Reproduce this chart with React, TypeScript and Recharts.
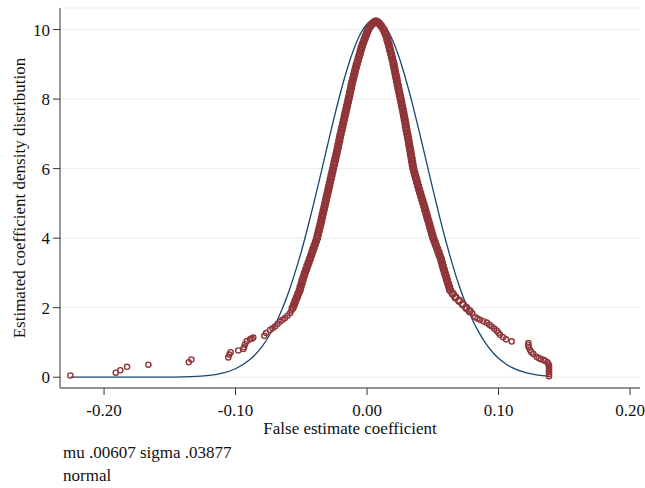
import { ComposedChart, Scatter, Line, XAxis, YAxis, CartesianGrid } from "recharts";

const serif = '"Liberation Serif", "Times New Roman", serif';
const maroon = "#8f3539";
const navy = "#1a476f";

const xTicks = [-0.2, -0.1, 0, 0.1, 0.2];
const yTicks = [0, 2, 4, 6, 8, 10];

// kernel density of the false estimates: [x, density]
const leftTail: [number, number][] = [
  [-0.2256, 0.05], [-0.1911, 0.13], [-0.1876, 0.2], [-0.1825, 0.3], [-0.1663, 0.36],
  [-0.1356, 0.43], [-0.1336, 0.51], [-0.1055, 0.57], [-0.1047, 0.65], [-0.1037, 0.72],
  [-0.0979, 0.77], [-0.0941, 0.81], [-0.0935, 0.86], [-0.0928, 0.95], [-0.0915, 1.03],
  [-0.089, 1.09], [-0.0878, 1.11], [-0.0865, 1.14], [-0.0781, 1.19], [-0.0768, 1.27],
  [-0.0738, 1.36], [-0.0719, 1.41], [-0.07, 1.46], [-0.0681, 1.53], [-0.0662, 1.6],
  [-0.0643, 1.65], [-0.0624, 1.7], [-0.0605, 1.77], [-0.0586, 1.84], [-0.0575, 1.92],
];

const leftFlank: [number, number][] = [
  [-0.0565, 2.0], [-0.0554, 2.1], [-0.0544, 2.2], [-0.0533, 2.3], [-0.0523, 2.4],
  [-0.0512, 2.5], [-0.0505, 2.6], [-0.0497, 2.7], [-0.049, 2.8], [-0.0481, 2.9],
  [-0.0473, 3.0], [-0.0463, 3.1], [-0.0454, 3.2], [-0.0444, 3.3], [-0.0435, 3.4],
  [-0.0425, 3.5], [-0.0416, 3.6], [-0.0407, 3.7], [-0.0398, 3.8], [-0.0389, 3.9],
  [-0.038, 4.0], [-0.0374, 4.1], [-0.0367, 4.2], [-0.0361, 4.3], [-0.0354, 4.4],
  [-0.0348, 4.5], [-0.0342, 4.6], [-0.0336, 4.7], [-0.033, 4.8], [-0.0324, 4.9],
  [-0.0318, 5.0], [-0.0312, 5.1], [-0.0306, 5.2], [-0.03, 5.3], [-0.0294, 5.4],
  [-0.0288, 5.5], [-0.0282, 5.6], [-0.0276, 5.7], [-0.027, 5.8], [-0.0264, 5.9],
  [-0.0258, 6.0], [-0.0252, 6.1], [-0.0246, 6.2], [-0.024, 6.3], [-0.0234, 6.4],
  [-0.0228, 6.5], [-0.0222, 6.6], [-0.0217, 6.7], [-0.0211, 6.8], [-0.0206, 6.9],
  [-0.02, 7.0], [-0.0194, 7.1], [-0.0188, 7.2], [-0.0182, 7.3], [-0.0176, 7.4],
  [-0.017, 7.5], [-0.0164, 7.6], [-0.0158, 7.7], [-0.0152, 7.8], [-0.0146, 7.9],
  [-0.014, 8.0], [-0.0134, 8.1], [-0.0129, 8.2], [-0.0123, 8.3], [-0.0118, 8.4],
  [-0.0112, 8.5], [-0.0105, 8.6], [-0.0098, 8.7], [-0.0092, 8.8], [-0.0085, 8.9],
  [-0.0078, 9.0], [-0.007, 9.1], [-0.0063, 9.2], [-0.0055, 9.3], [-0.0048, 9.4],
  [-0.004, 9.5], [-0.0031, 9.6], [-0.0021, 9.7], [-0.0012, 9.8], [-0.0001, 9.9],
  [0.001, 10.0], [0.0026, 10.1], [0.0042, 10.17], [0.0055, 10.21], [0.0068, 10.23],
];

const rightFlank: [number, number][] = [
  [0.0081, 10.21], [0.0094, 10.17], [0.0108, 10.1], [0.0125, 10.0], [0.0137, 9.9],
  [0.0148, 9.8], [0.0155, 9.7], [0.0163, 9.6], [0.017, 9.5], [0.0176, 9.4],
  [0.0183, 9.3], [0.0189, 9.2], [0.0196, 9.1], [0.0202, 9.0], [0.0207, 8.9],
  [0.0212, 8.8], [0.0218, 8.7], [0.0223, 8.6], [0.0228, 8.5], [0.0234, 8.4],
  [0.0239, 8.3], [0.0245, 8.2], [0.025, 8.1], [0.0256, 8.0], [0.0261, 7.9],
  [0.0266, 7.8], [0.0272, 7.7], [0.0277, 7.6], [0.0282, 7.5], [0.0287, 7.4],
  [0.0292, 7.3], [0.0296, 7.2], [0.0301, 7.1], [0.0306, 7.0], [0.0311, 6.9],
  [0.0316, 6.8], [0.032, 6.7], [0.0325, 6.6], [0.033, 6.5], [0.0334, 6.4],
  [0.0339, 6.3], [0.0343, 6.2], [0.0348, 6.1], [0.0352, 6.0], [0.0359, 5.9],
  [0.0366, 5.8], [0.0374, 5.7], [0.0381, 5.6], [0.0388, 5.5], [0.0396, 5.4],
  [0.0404, 5.3], [0.0412, 5.2], [0.042, 5.1], [0.0428, 5.0], [0.0436, 4.9],
  [0.0443, 4.8], [0.0451, 4.7], [0.0458, 4.6], [0.0466, 4.5], [0.0474, 4.4],
  [0.0481, 4.3], [0.0489, 4.2], [0.0496, 4.1], [0.0504, 4.0], [0.0514, 3.9],
  [0.0523, 3.8], [0.0533, 3.7], [0.0543, 3.6], [0.0552, 3.5], [0.0562, 3.4],
  [0.0569, 3.3], [0.0576, 3.2], [0.0584, 3.1], [0.0592, 3.0], [0.06, 2.9],
  [0.0608, 2.8], [0.0616, 2.7], [0.0624, 2.6], [0.0632, 2.5], [0.0652, 2.4],
  [0.0672, 2.3], [0.07, 2.2], [0.0728, 2.1], [0.0754, 2.0], [0.078, 1.9],
];

const rightTail: [number, number][] = [
  [0.08, 1.84], [0.0821, 1.73], [0.084, 1.69], [0.0859, 1.65], [0.0885, 1.61],
  [0.091, 1.57], [0.093, 1.51], [0.0948, 1.46], [0.0967, 1.4], [0.0986, 1.34],
  [0.1, 1.28], [0.1011, 1.22], [0.1035, 1.15], [0.1057, 1.09], [0.11, 1.03],
  [0.1227, 0.98], [0.1227, 0.92], [0.123, 0.86], [0.124, 0.78], [0.125, 0.72],
  [0.1265, 0.67], [0.129, 0.59], [0.1305, 0.55], [0.1321, 0.52], [0.134, 0.5],
  [0.1354, 0.47], [0.1372, 0.43], [0.1379, 0.38], [0.1384, 0.33], [0.1384, 0.27],
  [0.1384, 0.21], [0.1384, 0.15], [0.1384, 0.09], [0.1384, 0.03],
];

// normal overlay (mu .00607, sigma .03877)
const normalX = [
  -0.2256, -0.2, -0.18, -0.16, -0.15, -0.14, -0.13, -0.12, -0.11, -0.1, -0.09, -0.08,
  -0.075, -0.07, -0.065, -0.06, -0.055, -0.05, -0.045, -0.04, -0.035, -0.03, -0.025,
  -0.02, -0.015, -0.01, -0.005, 0, 0.005, 0.01, 0.015, 0.02, 0.025, 0.03, 0.035, 0.04,
  0.045, 0.05, 0.055, 0.06, 0.065, 0.07, 0.075, 0.08, 0.085, 0.09, 0.095, 0.1, 0.105,
  0.11, 0.12, 0.13, 0.1384,
];
const normalY = [
  0, 0, 0.0001, 0.001, 0.003, 0.0085, 0.022, 0.052, 0.116, 0.244, 0.478, 0.876,
  1.157, 1.5, 1.918, 2.41, 2.98, 3.61, 4.32, 5.08, 5.87, 6.68, 7.47,
  8.21, 8.88, 9.44, 9.88, 10.16, 10.29, 10.24, 10.02, 9.65, 9.13, 8.5, 7.79, 7.02,
  6.22, 5.42, 4.64, 3.91, 3.24, 2.64, 2.12, 1.67, 1.296, 0.988, 0.741, 0.546, 0.397,
  0.283, 0.137, 0.062, 0.03,
];

const toPts = (a: [number, number][]) => a.map(([x, y]) => ({ x, y }));
const normal = normalX.map((x, i) => ({ x, y: normalY[i] }));

const ring = (r: number, sw: number) => (p: any) =>
  <circle cx={p.cx} cy={p.cy} r={r} fill="none" stroke={maroon} strokeWidth={sw} />;

const tickStyle = { fill: "#111", fontSize: 17, fontFamily: serif };

export default function App() {
  return (
    <div style={{ position: "relative", width: 645, height: 488, fontFamily: serif }}>
      <style>{"body{margin:0}"}</style>
      <ComposedChart width={645} height={488} margin={{ top: 8, right: 5, bottom: 60, left: 10 }}>
        <CartesianGrid vertical={false} stroke="#e6eeef" />
        <XAxis
          type="number"
          dataKey="x"
          domain={[-0.2335, 0.2076]}
          ticks={xTicks}
          allowDataOverflow
          tickFormatter={(v: number) => v.toFixed(2)}
          height={40}
          tickSize={7}
          tickMargin={9}
          stroke="#333"
          tick={tickStyle}
        />
        <YAxis
          type="number"
          dataKey="y"
          domain={[-0.31, 10.62]}
          ticks={yTicks}
          allowDataOverflow
          width={50}
          tickSize={7}
          tickMargin={3}
          stroke="#333"
          tick={tickStyle}
        />
        <Scatter data={toPts(leftTail)} shape={ring(2.6, 1.4)} isAnimationActive={false} />
        <Scatter data={toPts(leftFlank)} shape={ring(3, 2.4)} isAnimationActive={false} />
        <Scatter data={toPts(rightFlank)} shape={ring(3, 2.4)} isAnimationActive={false} />
        <Scatter data={toPts(rightTail)} shape={ring(2.6, 1.4)} isAnimationActive={false} />
        <Line
          data={normal}
          dataKey="y"
          type="monotone"
          dot={false}
          stroke={navy}
          strokeWidth={1.3}
          isAnimationActive={false}
        />
      </ComposedChart>
      <svg
        width={645}
        height={488}
        style={{ position: "absolute", left: 0, top: 0, pointerEvents: "none" }}
        fontFamily={serif}
        fontSize={17}
        fill="#111"
      >
        <text x={350} y={434} textAnchor="middle">False estimate coefficient</text>
        <text transform="translate(25,198) rotate(-90)" textAnchor="middle">
          Estimated coefficient density distribution
        </text>
        <text x={63} y={458}>mu .00607 sigma .03877</text>
        <text x={63} y={481}>normal</text>
      </svg>
    </div>
  );
}
